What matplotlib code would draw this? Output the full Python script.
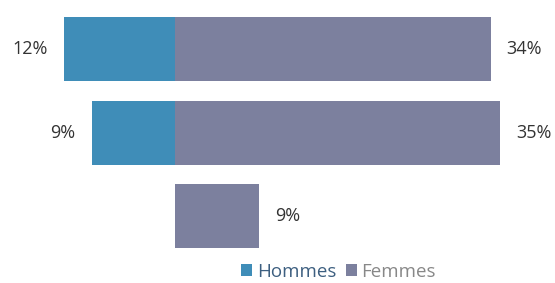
import numpy as np
import matplotlib.pyplot as plt

# data
categories = ["A", "B", "C"]
hommes = [12, 9, 0]
femmes = [34, 35, 9]

col_h = "#3f8db8"
col_f = "#7c809e"

fig = plt.figure(figsize=(5.55, 2.83), dpi=100)
ax = fig.add_axes([0, 0, 1, 1])
ax.axis("off")

y = np.arange(len(categories))
h = np.array(hommes)
f = np.array(femmes)

ax.barh(y, -h, height=0.77, color=col_h, label="Hommes")
ax.barh(y, f, height=0.77, color=col_f, label="Femmes")

# value labels
for yi, hv, fv in zip(y, h, f):
    if hv > 0:
        ax.text(-hv - 1.8, yi, f"{hv}%", ha="right", va="center",
                fontsize=13, color="#333333", family="Open Sans")
    ax.text(fv + 1.7, yi, f"{fv}%", ha="left", va="center",
            fontsize=13, color="#333333", family="Open Sans")

ax.set_xlim(-18.9, 40.9)
ax.set_ylim(2.8, -0.59)

leg = ax.legend(loc="center", bbox_to_anchor=(0.61, 0.04), ncol=2, frameon=False,
                handlelength=0.6, handleheight=0.6, handletextpad=0.25, columnspacing=0.5,
                prop={"family": "Open Sans", "size": 13.5})
for t, c in zip(leg.get_texts(), ["#3d5f80", "#888888"]):
    t.set_color(c)

fig.savefig("out.png", dpi=100)
